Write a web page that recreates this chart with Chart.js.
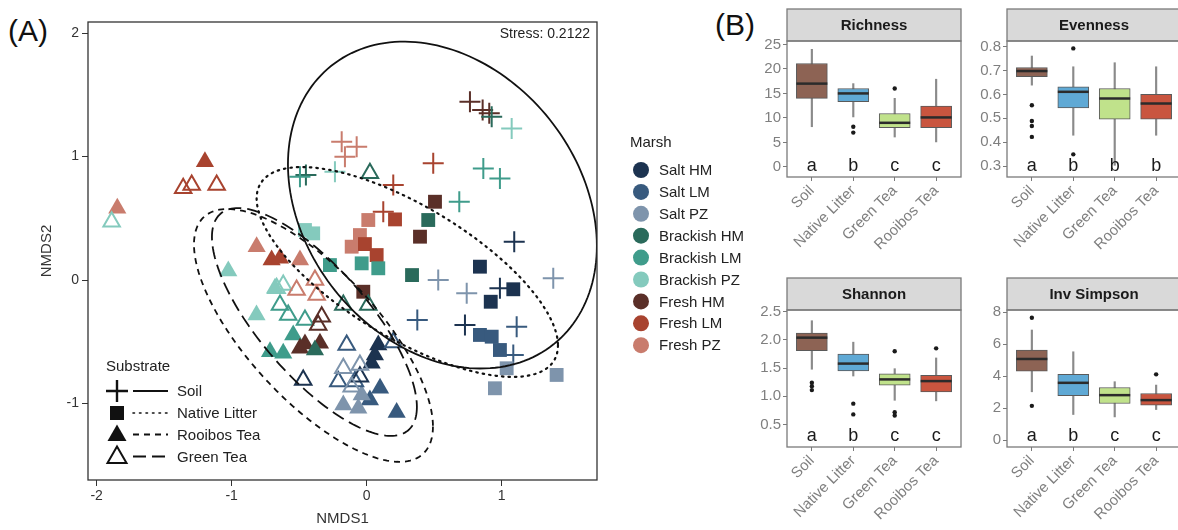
<!DOCTYPE html>
<html>
<head>
<meta charset="utf-8">
<script src="https://cdn.jsdelivr.net/npm/chart.js@4/dist/chart.umd.min.js"></script>
<style>
  body { margin: 0; width: 1178px; height: 530px; overflow: hidden; background: #fff; position: relative;
         font-family: "Liberation Sans", Arial, sans-serif; }
  canvas { position: absolute; }
  .tag { position: absolute; font-size: 30px; line-height: 1; color: #111; }
</style>
</head>
<body>
<div class="tag" style="left:8px;top:16px">(A)</div>
<div class="tag" style="left:715px;top:10px">(B)</div>
<canvas id="nmds" width="770" height="530" style="left:0;top:0"></canvas>
<canvas id="richness" width="232" height="265" style="left:735px;top:0"></canvas>
<canvas id="evenness" width="232" height="265" style="left:955px;top:0"></canvas>
<canvas id="shannon" width="232" height="265" style="left:735px;top:265px"></canvas>
<canvas id="invsimpson" width="232" height="265" style="left:955px;top:265px"></canvas>
<script>
// ---- NMDS ordination ----
const marshNames = ['Salt HM', 'Salt LM', 'Salt PZ', 'Brackish HM', 'Brackish LM', 'Brackish PZ', 'Fresh HM', 'Fresh LM', 'Fresh PZ'];
const marshColors = ['#1c3350', '#385a7e', '#7e94ac', '#2a6a5b', '#3f9c8b', '#84cabd', '#5a2f28', '#a8432f', '#c97c6d'];
const substrateNames = ['Soil', 'Native Litter', 'Rooibos Tea', 'Green Tea'];
const nmdsXTicks = [-2, -1, 0, 1];
const nmdsYTicks = [-1, 0, 1, 2];

const soilPts = [
  [0.765, 1.444, 'Fresh HM'], [0.859, 1.377, 'Fresh HM'], [0.908, 1.350, 'Fresh HM'],
  [0.926, 1.322, 'Brackish HM'], [-0.450, 0.850, 'Brackish HM'],
  [1.074, 1.228, 'Brackish PZ'], [-0.235, 0.877, 'Brackish PZ'],
  [-0.185, 1.120, 'Fresh PZ'], [-0.074, 1.079, 'Fresh PZ'], [-0.161, 0.998, 'Fresh PZ'],
  [0.493, 0.945, 'Fresh LM'], [0.197, 0.769, 'Fresh LM'], [0.123, 0.553, 'Fresh LM'],
  [0.864, 0.904, 'Brackish LM'], [0.987, 0.823, 'Brackish LM'], [0.686, 0.634, 'Brackish LM'], [-0.494, 0.836, 'Brackish LM'],
  [1.093, 0.310, 'Salt HM'], [0.987, -0.067, 'Salt HM'], [0.728, -0.364, 'Salt HM'],
  [0.375, -0.324, 'Salt LM'], [1.111, -0.378, 'Salt LM'], [1.086, -0.607, 'Salt LM'],
  [0.530, 0.000, 'Salt PZ'], [0.741, -0.108, 'Salt PZ'], [1.382, 0.014, 'Salt PZ']
];
const litterPts = [
  [0.506, 0.634, 'Fresh HM'], [0.395, 0.351, 'Fresh HM'], [-0.025, -0.095, 'Fresh HM'],
  [0.456, 0.486, 'Brackish HM'], [0.336, 0.040, 'Brackish HM'],
  [0.012, 0.486, 'Fresh PZ'], [-0.050, 0.364, 'Fresh PZ'], [-0.111, 0.270, 'Fresh PZ'],
  [0.210, 0.491, 'Fresh LM'], [-0.013, 0.291, 'Fresh LM'], [0.074, 0.202, 'Fresh LM'],
  [-0.037, 0.135, 'Brackish LM'], [0.086, 0.095, 'Brackish LM'], [-0.272, 0.121, 'Brackish LM'],
  [-0.457, 0.405, 'Brackish PZ'], [-0.396, 0.378, 'Brackish PZ'],
  [0.839, 0.108, 'Salt HM'], [1.086, -0.075, 'Salt HM'], [0.919, -0.176, 'Salt HM'],
  [0.839, -0.445, 'Salt LM'], [0.926, -0.459, 'Salt LM'], [0.987, -0.567, 'Salt LM'],
  [1.037, -0.715, 'Salt PZ'], [1.407, -0.769, 'Salt PZ'], [0.950, -0.877, 'Salt PZ']
];
const rooibosPts = [
  [-1.198, 0.958, 'Fresh LM'], [-0.704, 0.162, 'Fresh LM'], [-0.642, 0.176, 'Fresh LM'],
  [-1.847, 0.581, 'Fresh PZ'], [-0.815, 0.270, 'Fresh PZ'], [-0.494, 0.162, 'Fresh PZ'],
  [-1.025, 0.073, 'Brackish PZ'], [-0.679, -0.067, 'Brackish PZ'], [-0.816, -0.283, 'Brackish PZ'],
  [-0.544, -0.445, 'Brackish LM'], [-0.716, -0.581, 'Brackish LM'], [-0.618, -0.594, 'Brackish LM'],
  [-0.494, -0.553, 'Fresh HM'], [-0.457, -0.518, 'Fresh HM'], [-0.346, -0.513, 'Fresh HM'],
  [-0.383, -0.567, 'Brackish HM'],
  [0.086, -0.526, 'Salt HM'], [0.061, -0.607, 'Salt HM'], [0.037, -0.675, 'Salt HM'],
  [0.099, -0.877, 'Salt LM'], [0.024, -0.972, 'Salt LM'], [0.222, -1.074, 'Salt LM'],
  [-0.173, -1.012, 'Salt PZ'], [-0.062, -1.039, 'Salt PZ'], [-0.037, -0.931, 'Salt PZ']
];
const greenPts = [
  [-1.359, 0.743, 'Fresh LM'], [-1.296, 0.769, 'Fresh LM'], [-1.111, 0.769, 'Fresh LM'],
  [-1.889, 0.472, 'Brackish PZ'], [-0.667, -0.067, 'Brackish PZ'], [-0.618, -0.040, 'Brackish PZ'],
  [0.024, 0.864, 'Brackish HM'], [-0.173, -0.202, 'Brackish HM'], [0.012, -0.202, 'Brackish HM'],
  [-0.519, -0.081, 'Fresh PZ'], [-0.383, 0.000, 'Fresh PZ'], [-0.370, -0.121, 'Fresh PZ'],
  [-0.642, -0.202, 'Brackish LM'], [-0.581, -0.283, 'Brackish LM'], [-0.457, -0.324, 'Brackish LM'],
  [-0.333, -0.297, 'Fresh HM'], [-0.359, -0.364, 'Fresh HM'],
  [-0.148, -0.526, 'Salt LM'], [0.197, -0.506, 'Salt LM'], [-0.210, -0.823, 'Salt LM'], [-0.087, -0.823, 'Salt LM'],
  [-0.470, -0.810, 'Salt HM'], [-0.050, -0.783, 'Salt HM'],
  [-0.173, -0.715, 'Salt PZ'], [-0.050, -0.688, 'Salt PZ'], [-0.111, -0.864, 'Salt PZ']
];

// 95% ellipses: centre, half extent along x and y, and y offset of the rightmost point
const ellipseCx = [0.561, 0.301, -0.394, -0.387];
const ellipseCy = [0.607, 0.065, -0.449, -0.340];
const ellipseW = [1.144, 1.116, 0.885, 0.759];
const ellipseH = [1.324, 0.850, 1.024, 0.923];
const ellipseK = [-0.33, -0.595, -0.737, -0.688];
const ellipseDash = [[], [1.5, 5], [6, 5], [13, 6]];

function pointSet(label, pts, style) {
  const cols = pts.map(p => marshColors[marshNames.indexOf(p[2])]);
  return Object.assign({
    label: label,
    data: pts.map(p => ({x: p[0], y: p[1]})),
    pointBackgroundColor: cols,
    pointBorderColor: cols
  }, style);
}

const nmdsPlugin = {
  id: 'nmdsDecor',
  afterDatasetsDraw(chart) {
    const {ctx, chartArea: a, scales: {x, y}} = chart;
    ctx.save();
    ctx.beginPath();
    ctx.rect(a.left, a.top, a.right - a.left, a.bottom - a.top);
    ctx.clip();
    for (let e = 0; e < ellipseCx.length; e++) {
      const d = Math.acos(ellipseK[e] / ellipseH[e]);
      ctx.beginPath();
      for (let i = 0; i <= 180; i++) {
        const t = i / 180 * 2 * Math.PI;
        const px = x.getPixelForValue(ellipseCx[e] + ellipseW[e] * Math.cos(t));
        const py = y.getPixelForValue(ellipseCy[e] + ellipseH[e] * Math.cos(t + d));
        if (i === 0) ctx.moveTo(px, py); else ctx.lineTo(px, py);
      }
      ctx.closePath();
      ctx.setLineDash(ellipseDash[e]);
      ctx.lineCap = e === 1 ? 'round' : 'butt';
      ctx.lineWidth = e === 1 ? 2.2 : 1.8;
      ctx.strokeStyle = '#111';
      ctx.stroke();
    }
    ctx.restore();
  },
  afterDraw(chart) {
    const {ctx, chartArea: a} = chart;
    ctx.save();
    ctx.strokeStyle = '#333';
    ctx.lineWidth = 1.3;
    ctx.strokeRect(a.left, a.top, a.right - a.left, a.bottom - a.top);

    ctx.fillStyle = '#222';
    ctx.font = '14px "Liberation Sans", Arial, sans-serif';
    ctx.textAlign = 'right';
    ctx.textBaseline = 'middle';
    ctx.fillText('Stress: 0.2122', a.right - 7, a.top + 12);

    // axis titles
    ctx.font = '15px "Liberation Sans", Arial, sans-serif';
    ctx.fillStyle = '#333';
    ctx.textAlign = 'center';
    ctx.fillText('NMDS1', (a.left + a.right) / 2, 519);
    ctx.save();
    ctx.translate(47, (a.top + a.bottom) / 2);
    ctx.rotate(-Math.PI / 2);
    ctx.fillText('NMDS2', 0, 0);
    ctx.restore();

    // substrate legend
    ctx.fillStyle = '#222';
    ctx.textAlign = 'left';
    ctx.fillText('Substrate', 106, 367);
    const rows = [391, 413, 434.5, 456.5];
    const sx = 117;
    ctx.strokeStyle = '#111';
    ctx.fillStyle = '#111';
    for (let i = 0; i < substrateNames.length; i++) {
      const ry = rows[i];
      ctx.setLineDash([]);
      ctx.lineWidth = 2.4;
      if (i === 0) {
        ctx.beginPath();
        ctx.moveTo(sx - 11, ry); ctx.lineTo(sx + 11, ry);
        ctx.moveTo(sx, ry - 11); ctx.lineTo(sx, ry + 11);
        ctx.stroke();
      } else if (i === 1) {
        ctx.fillRect(sx - 7, ry - 7, 14, 14);
      } else {
        ctx.beginPath();
        ctx.moveTo(sx, ry - 10);
        ctx.lineTo(sx + 9.5, ry + 6.5);
        ctx.lineTo(sx - 9.5, ry + 6.5);
        ctx.closePath();
        if (i === 2) ctx.fill(); else { ctx.lineWidth = 2; ctx.stroke(); }
      }
      ctx.beginPath();
      ctx.setLineDash(ellipseDash[i]);
      ctx.lineCap = i === 1 ? 'round' : 'butt';
      ctx.lineWidth = i === 1 ? 1.6 : 1.8;
      ctx.moveTo(133, ry); ctx.lineTo(168, ry);
      ctx.stroke();
      ctx.setLineDash([]);
      ctx.fillStyle = '#222';
      ctx.fillText(substrateNames[i], 177, ry + 1);
      ctx.fillStyle = '#111';
    }

    // marsh legend
    ctx.fillStyle = '#222';
    ctx.fillText('Marsh', 630, 143);
    for (let i = 0; i < marshNames.length; i++) {
      const ry = 170 + 21.9 * i;
      ctx.beginPath();
      ctx.arc(641, ry, 8, 0, 2 * Math.PI);
      ctx.fillStyle = marshColors[i];
      ctx.fill();
      ctx.fillStyle = '#222';
      ctx.fillText(marshNames[i], 659, ry + 1);
    }
    ctx.restore();
  }
};

new Chart(document.getElementById('nmds'), {
  type: 'scatter',
  data: {
    datasets: [
      pointSet('Green Tea', greenPts, {pointStyle: 'triangle', pointRadius: 9.5, pointBorderWidth: 2, pointBackgroundColor: 'rgba(0,0,0,0)'}),
      pointSet('Rooibos Tea', rooibosPts, {pointStyle: 'triangle', pointRadius: 10.5, pointBorderWidth: 0}),
      pointSet('Native Litter', litterPts, {pointStyle: 'rect', pointRadius: 9.8, pointBorderWidth: 0}),
      pointSet('Soil', soilPts, {pointStyle: 'cross', pointRadius: 10.5, pointBorderWidth: 2})
    ]
  },
  options: {
    responsive: false,
    animation: false,
    events: [],
    layout: {autoPadding: false, padding: {left: 0, right: 173, top: 22, bottom: 0}},
    plugins: {legend: {display: false}, tooltip: {enabled: false}},
    scales: {
      x: {
        min: -2.064, max: 1.706,
        afterBuildTicks: s => { s.ticks = nmdsXTicks.map(v => ({value: v})); },
        afterFit: s => { s.height = 50; },
        grid: {drawOnChartArea: false, drawTicks: true, tickLength: 6, color: '#333'},
        border: {display: false},
        ticks: {color: '#333', font: {size: 14, family: '"Liberation Sans", Arial'}, padding: 2, maxRotation: 0}
      },
      y: {
        min: -1.62, max: 2.09,
        afterBuildTicks: s => { s.ticks = nmdsYTicks.map(v => ({value: v})); },
        afterFit: s => { s.width = 88; },
        grid: {drawOnChartArea: false, drawTicks: true, tickLength: 6, color: '#333'},
        border: {display: false},
        ticks: {color: '#333', font: {size: 14, family: '"Liberation Sans", Arial'}, padding: 3}
      }
    }
  },
  plugins: [nmdsPlugin]
});

// ---- diversity box plots ----
const boxCats = ['Soil', 'Native Litter', 'Green Tea', 'Rooibos Tea'];
const boxColors = ['#8d6354', '#5fa9d5', '#c0e28b', '#c9553f'];

const richnessLow = [8.2, 10.2, 6.1, 5.1];
const richnessQ1 = [14.0, 13.3, 8.0, 8.0];
const richnessMed = [17.0, 15.0, 9.0, 10.1];
const richnessQ3 = [21.1, 16.0, 10.9, 12.4];
const richnessHigh = [24.0, 17.0, 14.0, 17.9];
const richnessOut = [[2, 8.2], [2, 7.0], [3, 16.0]];
const richnessLetters = ['a', 'b', 'c', 'c'];
const richnessTicks = [0, 5, 10, 15, 20, 25];

const evennessLow = [0.639, 0.429, 0.303, 0.429];
const evennessQ1 = [0.674, 0.544, 0.496, 0.496];
const evennessMed = [0.698, 0.611, 0.583, 0.562];
const evennessQ3 = [0.713, 0.632, 0.625, 0.600];
const evennessHigh = [0.761, 0.716, 0.733, 0.716];
const evennessOut = [[1, 0.555], [1, 0.489], [1, 0.468], [1, 0.422], [2, 0.793], [2, 0.349]];
const evennessLetters = ['a', 'b', 'b', 'b'];
const evennessTicks = [0.3, 0.4, 0.5, 0.6, 0.7, 0.8];

const shannonLow = [1.48, 1.36, 0.93, 0.92];
const shannonQ1 = [1.81, 1.45, 1.20, 1.08];
const shannonMed = [2.04, 1.58, 1.30, 1.27];
const shannonQ3 = [2.12, 1.75, 1.40, 1.37];
const shannonHigh = [2.34, 1.96, 1.49, 1.68];
const shannonOut = [[1, 1.24], [1, 1.18], [1, 1.11], [2, 0.87], [2, 0.68], [3, 1.80], [3, 0.72], [3, 0.66], [4, 1.85]];
const shannonLetters = ['a', 'b', 'c', 'c'];
const shannonTicks = [0.5, 1.0, 1.5, 2.0, 2.5];

const invSimpsonLow = [3.03, 1.61, 1.46, 1.92];
const invSimpsonQ1 = [4.32, 2.78, 2.30, 2.19];
const invSimpsonMed = [5.08, 3.59, 2.82, 2.51];
const invSimpsonQ3 = [5.64, 4.12, 3.30, 2.92];
const invSimpsonHigh = [6.89, 5.53, 3.66, 3.45];
const invSimpsonOut = [[1, 7.66], [1, 2.15], [4, 4.12]];
const invSimpsonLetters = ['a', 'b', 'c', 'c'];
const invSimpsonTicks = [0, 2, 4, 6, 8];

const panelPlugin = {
  id: 'panelDecor',
  afterDraw(chart) {
    const {ctx, chartArea: a, scales: {x}} = chart;
    const o = chart.options.plugins.panelDecor;
    ctx.save();
    ctx.fillStyle = '#d9d9d9';
    ctx.fillRect(a.left, a.top - 32, a.right - a.left, 32);
    ctx.strokeStyle = '#7a7a7a';
    ctx.lineWidth = 1.3;
    ctx.strokeRect(a.left, a.top - 32, a.right - a.left, 32);
    ctx.strokeRect(a.left, a.top, a.right - a.left, a.bottom - a.top);
    ctx.fillStyle = '#1a1a1a';
    ctx.font = 'bold 15px "Liberation Sans", Arial, sans-serif';
    ctx.textAlign = 'center';
    ctx.textBaseline = 'middle';
    ctx.fillText(o.title, (a.left + a.right) / 2, a.top - 15);
    ctx.font = '18px "Liberation Sans", Arial, sans-serif';
    o.letters.forEach((l, i) => ctx.fillText(l, x.getPixelForValue(i + 1), a.bottom - 11));
    ctx.restore();
  }
};

function boxPanel(id, title, lo, q1, med, q3, hi, outliers, letters, yMin, yMax, ticks, decimals, xHeight, topPad) {
  const fontSpec = {size: 15, family: '"Liberation Sans", Arial'};
  return new Chart(document.getElementById(id), {
    type: 'bar',
    data: {
      datasets: [
        {type: 'scatter', data: outliers.map(p => ({x: p[0], y: p[1]})), pointRadius: 2.2,
         pointBackgroundColor: '#1a1a1a', pointBorderWidth: 0, order: 0},
        {type: 'scatter', data: med.map((v, i) => ({x: i + 1, y: v})), pointStyle: 'line', pointRadius: 15.5,
         pointBorderColor: '#2b2b2b', pointBorderWidth: 2.5, order: 1},
        {data: q1.map((v, i) => ({x: i + 1, y: [v, q3[i]]})), backgroundColor: boxColors, borderColor: '#5a5a5a',
         borderWidth: 1, borderSkipped: false, barThickness: 31, grouped: false, order: 2},
        {data: lo.map((v, i) => ({x: i + 1, y: [v, hi[i]]})), backgroundColor: '#8a8a8a',
         barThickness: 1.5, grouped: false, order: 3}
      ]
    },
    options: {
      responsive: false,
      animation: false,
      events: [],
      layout: {autoPadding: false, padding: {left: 0, right: 6, top: topPad, bottom: 0}},
      plugins: {legend: {display: false}, tooltip: {enabled: false}, panelDecor: {title: title, letters: letters}},
      scales: {
        x: {
          type: 'linear', min: 0.4, max: 4.6, offset: false,
          afterBuildTicks: s => { s.ticks = boxCats.map((c, i) => ({value: i + 1})); },
          afterFit: s => { s.height = xHeight; s.paddingLeft = 0; s.paddingRight = 0; },
          grid: {drawOnChartArea: false, drawTicks: true, tickLength: 4, color: '#7a7a7a', offset: false},
          border: {display: false},
          ticks: {callback: v => boxCats[v - 1], minRotation: 45, maxRotation: 45, color: '#7f7f7f', font: fontSpec, padding: 1}
        },
        y: {
          min: yMin, max: yMax,
          afterBuildTicks: s => { s.ticks = ticks.map(v => ({value: v})); },
          afterFit: s => { s.width = 52; s.paddingTop = 0; s.paddingBottom = 0; },
          grid: {drawOnChartArea: false, drawTicks: true, tickLength: 4, color: '#7a7a7a'},
          border: {display: false},
          ticks: {callback: v => v.toFixed(decimals), color: '#7f7f7f', font: fontSpec, padding: 2}
        }
      }
    },
    plugins: [panelPlugin]
  });
}

boxPanel('richness', 'Richness', richnessLow, richnessQ1, richnessMed, richnessQ3, richnessHigh,
         richnessOut, richnessLetters, -2.06, 25.7, richnessTicks, 0, 88, 41);
boxPanel('evenness', 'Evenness', evennessLow, evennessQ1, evennessMed, evennessQ3, evennessHigh,
         evennessOut, evennessLetters, 0.254, 0.824, evennessTicks, 1, 88, 41);
boxPanel('shannon', 'Shannon', shannonLow, shannonQ1, shannonMed, shannonQ3, shannonHigh,
         shannonOut, shannonLetters, 0.102, 2.53, shannonTicks, 1, 83, 45);
boxPanel('invsimpson', 'Inv Simpson', invSimpsonLow, invSimpsonQ1, invSimpsonMed, invSimpsonQ3, invSimpsonHigh,
         invSimpsonOut, invSimpsonLetters, -0.42, 8.14, invSimpsonTicks, 0, 83, 45);
</script>
</body>
</html>
